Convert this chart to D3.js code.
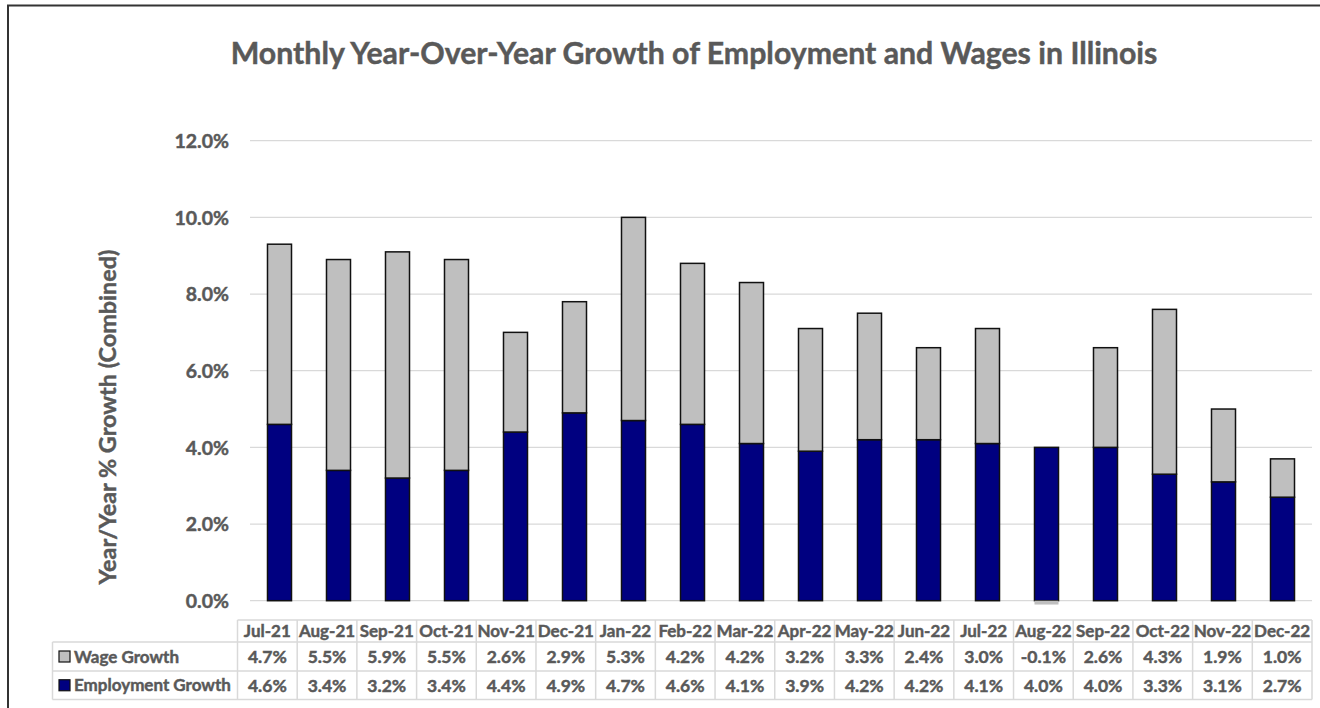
<!DOCTYPE html>
<html>
<head>
<meta charset="utf-8">
<script src="https://cdn.jsdelivr.net/npm/d3@7"></script>
<style>
  html, body { margin: 0; padding: 0; background: #fff; }
  svg { display: block; }
  text { font-family: Lato, "Open Sans", sans-serif; font-weight: bold; fill: #595959; stroke: #595959; stroke-width: 0.45px; }
</style>
</head>
<body>
<svg id="chart" width="1320" height="708"></svg>
<script>
const title = "Monthly Year-Over-Year Growth of Employment and Wages in Illinois";
const yTitle = "Year/Year % Growth (Combined)";
const months = ["Jul-21","Aug-21","Sep-21","Oct-21","Nov-21","Dec-21","Jan-22","Feb-22","Mar-22","Apr-22","May-22","Jun-22","Jul-22","Aug-22","Sep-22","Oct-22","Nov-22","Dec-22"];
const wageGrowth = [4.7,5.5,5.9,5.5,2.6,2.9,5.3,4.2,4.2,3.2,3.3,2.4,3.0,-0.1,2.6,4.3,1.9,1.0];
const employmentGrowth = [4.6,3.4,3.2,3.4,4.4,4.9,4.7,4.6,4.1,3.9,4.2,4.2,4.1,4.0,4.0,3.3,3.1,2.7];
const yTicks = [0,2,4,6,8,10,12];
const seriesNames = ["Employment Growth","Wage Growth"];
const seriesColors = {"Employment Growth":"#000080","Wage Growth":"#bfbfbf"};

const svg = d3.select("#chart");

// outer border
svg.append("rect").attr("x",8).attr("y",5.5).attr("width",1330).attr("height",720)
  .attr("fill","none").attr("stroke","#333").attr("stroke-width",2);

const plot = {left:250, right:1312, top:140.7, bottom:600.7};

const x = d3.scaleBand().domain(months).range([plot.left, plot.right])
  .paddingInner(0.593).paddingOuter(0.2965);
const y = d3.scaleLinear().domain([0,12]).range([plot.bottom, plot.top]);

// gridlines
svg.append("g").selectAll("line").data(yTicks).join("line")
  .attr("x1",plot.left).attr("x2",plot.right)
  .attr("y1",d=>y(d)).attr("y2",d=>y(d))
  .attr("stroke","#d9d9d9").attr("stroke-width",1.3);

// y axis labels
const yAxis = d3.axisLeft(y).tickValues(yTicks).tickFormat(d=>d.toFixed(1)+"%").tickSize(0).tickPadding(0);
const gy = svg.append("g").attr("transform",`translate(229,0)`).call(yAxis);
gy.select(".domain").remove();
gy.selectAll("text").style("font-size","19.5px").attr("fill","#595959")
  .style("font-family","Lato, 'Open Sans', sans-serif").style("font-weight","bold").attr("dy","0.35em");

// stacked bars
const rows = months.map((m,i)=>({month:m, "Employment Growth":employmentGrowth[i], "Wage Growth":wageGrowth[i]}));
const stack = d3.stack().keys(seriesNames).offset(d3.stackOffsetDiverging);
const stacked = stack(rows);
svg.append("g").selectAll("g").data(stacked).join("g")
  .attr("fill",d=>seriesColors[d.key])
  .selectAll("rect").data(d=>d).join("rect")
  .attr("x",d=>x(d.data.month))
  .attr("width",x.bandwidth())
  .attr("y",d=>y(Math.max(d[0],d[1])))
  .attr("height",d=>Math.abs(y(d[0])-y(d[1])))
  .attr("stroke",d=>Math.abs(y(d[0])-y(d[1])) < 5 ? "none" : "#111")
  .attr("stroke-width",1.5);

// title
const t = svg.append("text").attr("x",694).attr("y",64).attr("text-anchor","middle")
  .style("font-size","24px").text(title);
const tw = t.node().getComputedTextLength();
t.style("font-size",(24*927/tw).toFixed(2)+"px");

// y title
const yt = svg.append("text").attr("transform","translate(108,417) rotate(-90)")
  .attr("text-anchor","middle").attr("dy","0.35em").style("font-size","20px").text(yTitle);
const ytw = yt.node().getComputedTextLength();
yt.style("font-size",(20*335/ytw).toFixed(2)+"px");

// data table
const tbl = {left:52.5, colLeft:237.5, right:1312, rowY:[620,642,671,699.5]};
const xc = d3.scaleBand().domain(months).range([tbl.colLeft, tbl.right]);
const tg = svg.append("g");
const gridColor = "#d9d9d9";
tg.append("line").attr("x1",tbl.colLeft).attr("x2",tbl.right).attr("y1",tbl.rowY[0]).attr("y2",tbl.rowY[0]).attr("stroke",gridColor).attr("stroke-width",1.5);
[1,2,3].forEach(i=>{
  tg.append("line").attr("x1",tbl.left).attr("x2",tbl.right).attr("y1",tbl.rowY[i]).attr("y2",tbl.rowY[i]).attr("stroke",gridColor).attr("stroke-width",1.5);
});
tg.append("line").attr("x1",tbl.left).attr("x2",tbl.left).attr("y1",tbl.rowY[1]).attr("y2",tbl.rowY[3]).attr("stroke",gridColor).attr("stroke-width",1.5);
tg.selectAll("line.v").data(months).join("line").attr("class","v")
  .attr("x1",d=>xc(d)).attr("x2",d=>xc(d)).attr("y1",tbl.rowY[0]).attr("y2",tbl.rowY[3])
  .attr("stroke",gridColor).attr("stroke-width",1.5);
tg.append("line").attr("x1",tbl.right).attr("x2",tbl.right).attr("y1",tbl.rowY[0]).attr("y2",tbl.rowY[3]).attr("stroke",gridColor).attr("stroke-width",1.5);

tg.selectAll("text.h").data(months).join("text").attr("class","h")
  .attr("x",d=>xc(d)+xc.bandwidth()/2).attr("y",(tbl.rowY[0]+tbl.rowY[1])/2).attr("dy","0.36em")
  .attr("text-anchor","middle").style("font-size","17px").text(d=>d);

const tableRows = [
  {name:"Wage Growth", values:wageGrowth, y0:tbl.rowY[1], y1:tbl.rowY[2]},
  {name:"Employment Growth", values:employmentGrowth, y0:tbl.rowY[2], y1:tbl.rowY[3]}
];
tableRows.forEach(r=>{
  const cy = (r.y0+r.y1)/2;
  tg.append("rect").attr("x",59).attr("y",cy-5.5).attr("width",11).attr("height",11)
    .attr("fill",seriesColors[r.name]).attr("stroke","#111").attr("stroke-width",1.2);
  tg.append("text").attr("x",74).attr("y",cy).attr("dy","0.36em").style("font-size","17px").text(r.name);
  tg.selectAll(null).data(r.values).join("text")
    .attr("x",(d,i)=>xc(months[i])+xc.bandwidth()/2).attr("y",cy).attr("dy","0.36em")
    .attr("text-anchor","middle").style("font-size","17.5px").text(d=>d.toFixed(1)+"%");
});
</script>
</body>
</html>
